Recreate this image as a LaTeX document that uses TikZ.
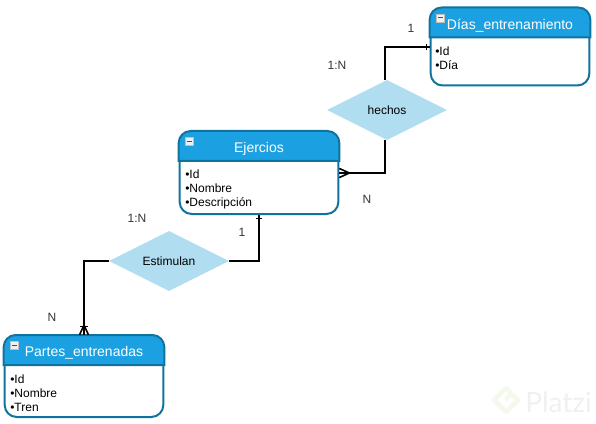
\documentclass[tikz,border=0pt]{standalone}
\usepackage{fontspec}
\setmainfont{Liberation Sans}
\newfontfamily\markfont{Lato}
\usetikzlibrary{shapes.geometric, decorations.markings}
\definecolor{headblue}{HTML}{1BA1E2}
\definecolor{edgeblue}{HTML}{10739E}
\definecolor{relblue}{HTML}{B1DDF0}
\definecolor{marklogo}{HTML}{F5F8EC}

\begin{document}
\begin{tikzpicture}[x=.75pt, y=-.75pt,
  entity/.style={rectangle, draw=edgeblue, line width=1.5pt, fill=white, rounded corners=9pt, minimum width=119pt, inner sep=0pt},
  headbar/.style={draw=edgeblue, line width=1.5pt, fill=headblue},
  title/.style={text=white, font=\fontsize{10.5}{12}\selectfont, inner sep=0pt},
  items/.style={anchor=north west, align=left, inner sep=0pt, font=\fontsize{9}{10.5}\selectfont},
  minbox/.style={rectangle, draw=gray!50, fill=gray!12, line width=.5pt, minimum size=6pt, inner sep=0pt,
    path picture={\fill[black!70] ([xshift=1pt,yshift=-2.4pt]path picture bounding box.north west) rectangle ([xshift=-1pt,yshift=-3.2pt]path picture bounding box.north east);}},
  rel/.style={diamond, aspect=2, fill=relblue, minimum width=90pt, minimum height=45pt, inner sep=0pt, font=\fontsize{9}{10.5}\selectfont},
  card/.style={inner sep=0pt, font=\fontsize{9}{10.5}\selectfont, text=black!80},
  link/.style={line width=1.6pt},
  onetick/.style={postaction={decorate}, decoration={markings, mark=at position -2.5pt with {\draw[line width=1.1pt] (0,-2.5pt) -- (0,2.5pt);}}},
  crowfoot/.style={postaction={decorate}, decoration={markings, mark=at position -7.5pt with {\draw[line width=1.2pt] (7.5pt,-3.4pt) -- (0,0) -- (7.5pt,3.4pt);}}},
  crowtick/.style={postaction={decorate}, decoration={markings, mark=at position -7.5pt with {\draw[line width=1.2pt] (7.5pt,-3.4pt) -- (0,0) -- (7.5pt,3.4pt);}, mark=at position -6.5pt with {\draw[line width=1.1pt] (0,-3pt) -- (0,3pt);}}}]
  \useasboundingbox (0,0) rectangle (596,424);
  % entities
  \foreach \n/\cx/\cy/\h in {dias/510/47/77, ejercios/259/173/82, partes/84/376.5/81} {
    \node[entity, minimum height=\h*.75pt] (\n) at (\cx,\cy) {};
    \draw[headbar] ([yshift=-22.5pt]\n.north west) [rounded corners=9pt] -- (\n.north west) -- (\n.north east) [sharp corners] -- ([yshift=-22.5pt]\n.north east) -- cycle;
    \node[minbox] (\n min) at ([xshift=8pt,yshift=-8pt]\n.north west) {};
  }
  % titles and attributes
  \node[title] (diast) at (510,26) {Días\_entrenamiento};
  \node[items] (diasi) at (435,47) {•Id\\•Día};
  \node[title] (ejerciciost) at (259,149) {Ejercios};
  \node[items] (ejerciciosi) at (185,170) {•Id\\•Nombre\\•Descripción};
  \node[title] (partest) at (84,353) {Partes\_entrenadas};
  \node[items] (partesi) at (10,375) {•Id\\•Nombre\\•Tren};
  % relations
  \node[rel] (hechos) at (387,110) {hechos};
  \node[rel] (estimulan) at (169,261) {Estimulan};
  % connectors
  \draw[link, onetick] ([xshift=-1.5pt]hechos.north) |- (dias.west);
  \draw[link, crowfoot] ([xshift=-1.5pt]hechos.south) |- (ejercios.east);
  \draw[link, onetick] (estimulan.east) -| (ejercios.south);
  \draw[link, crowtick] (estimulan.west) -| (partes.north);
  % cardinalities
  \node[card] (c1) at (411,28) {1};
  \node[card] (c2) at (337,65) {1:N};
  \node[card] (c3) at (367,199) {N};
  \node[card] (c4) at (137,218) {1:N};
  \node[card] (c5) at (242,232) {1};
  \node[card] (c6) at (52,317) {N};
  % watermark
  \draw[line width=3.5pt, color=marklogo, line join=round] (511,393) -- (506,388) -- (494,400) -- (506,412) -- (518,400) -- (511,394) -- (505,400);
  \node[text=black!6, inner sep=0pt, font=\markfont\fontsize{21}{24}\selectfont] (mark) at (558.5,402) {Platzi};
\end{tikzpicture}
\end{document}
